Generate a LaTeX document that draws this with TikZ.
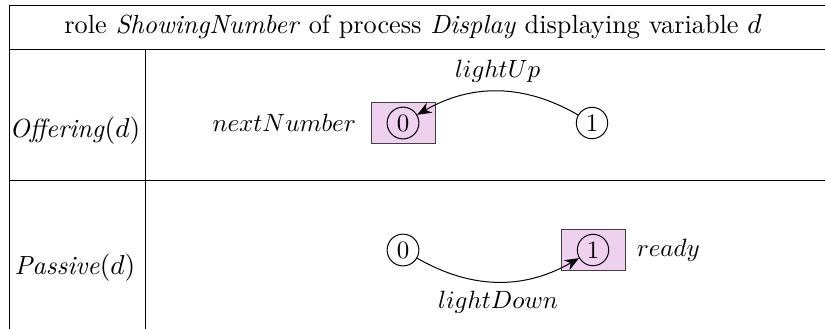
\documentclass[tikz,border=0pt]{standalone}
\usepackage{amsmath,amssymb}
\usepackage{xcolor}
\usetikzlibrary{arrows.meta, positioning}
\definecolor{markfill}{RGB}{239,208,239}
\tikzset{
	state/.style={circle, draw, inner sep=1.5pt},
	markbox/.style={rectangle, draw=black!75, fill=markfill, minimum width=25.6pt, minimum height=16.4pt},
	trans/.style={draw, -{Stealth[length=2mm, width=1.6mm]}}
}

\begin{document}
\begin{tikzpicture}[x=0.4pt, y=-0.4pt,
	% --- table rules ---
	rule/.style={draw, line width=0.4pt},
	cell/.style={font=\fontsize{10.5}{12}\selectfont}
	]
	\useasboundingbox (0,0) rectangle (825,329);

	% --- Table ---
	\draw[rule] (9,329) -- (9,5) -- (825,5);
	\draw[rule] (9,49) -- (825,49);
	\draw[rule] (9,180) -- (825,180);
	\draw[rule] (145,49) -- (145,329);

	\node[cell] (title) at (413,27) {role \textit{ShowingNumber} of process \textit{Display} displaying variable $d$};
	\node[cell] (offer) at (75,131) {\textit{Offering}$(d)$};
	\node[cell] (passive) at (75,268) {\textit{Passive}$(d)$};

	% --- Offering row ---
	\node[markbox] (box_o) at (403,123) {};
	\node[state] (o0) at (403,123) {0};
	\node[state] (o1) at (592,123) {1};
	\node[left=2.3pt of box_o] (next) {$nextNumber$};

	% --- Passive row ---
	\node[markbox] (box_p) at (593,250) {};
	\node[state] (p0) at (403,250) {0};
	\node[state] (p1) at (593,250) {1};
	\node[right=1pt of box_p] (ready) {$ready$};

	% --- Transitions ---
	\draw[trans] (o1) to[bend right=30] node[above] {$lightUp$} (o0);
	\draw[trans] (p0) to[bend right=30] node[below] {$lightDown$} (p1);

\end{tikzpicture}
\end{document}
